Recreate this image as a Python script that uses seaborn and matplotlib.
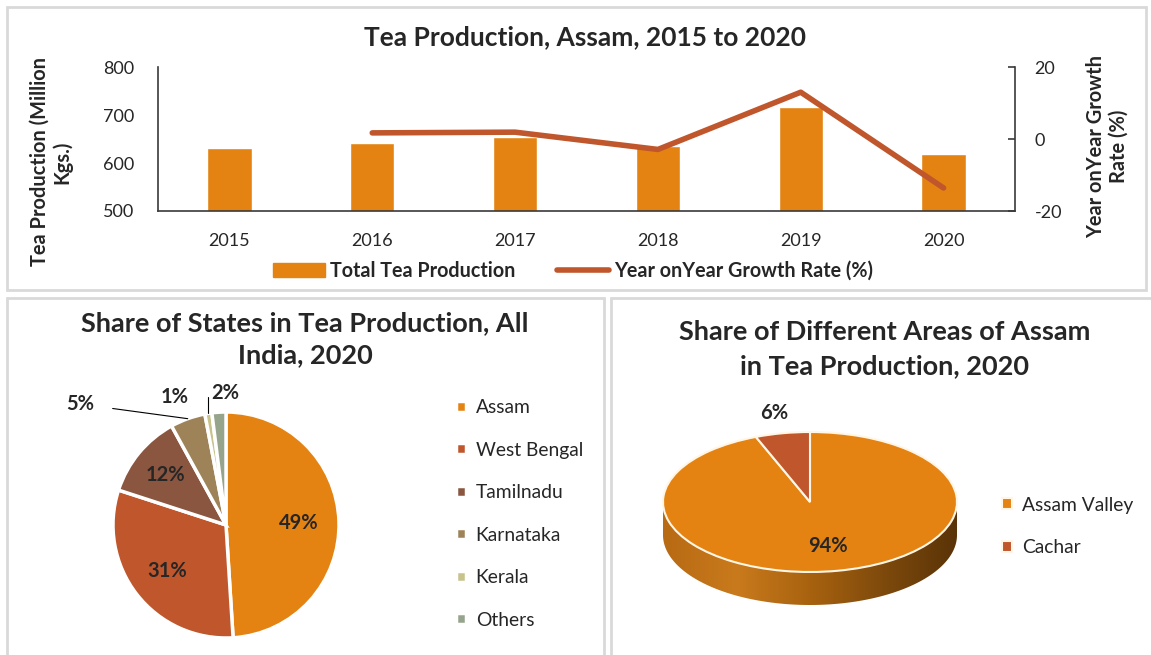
import numpy as np
import matplotlib
matplotlib.use('Agg')
import matplotlib.pyplot as plt
from matplotlib.patches import Rectangle, Polygon
from matplotlib.lines import Line2D
from matplotlib.colors import LinearSegmentedColormap
import seaborn as sns

# --- data ---
years = ['2015', '2016', '2017', '2018', '2019', '2020']
production = [632, 642, 654, 635, 717, 619]          # million kgs
growth = [np.nan, 1.7, 1.9, -2.9, 13.0, -13.6]       # % year on year

states = ['Assam', 'West Bengal', 'Tamilnadu', 'Karnataka', 'Kerala', 'Others']
state_share = [49, 31, 12, 5, 1, 2]
state_colors = ['#E48312', '#C0562C', '#8A5640', '#9E8258', '#C8C38C', '#96A48C']

areas = ['Assam Valley', 'Cachar']
area_share = [94, 6]
area_colors = ['#E48312', '#C0562C']

ORANGE = '#E48312'
LINE = '#C0562C'
SPINE = '#3a3a3a'

sns.set_theme(style='white')
plt.rcParams['font.family'] = ['Lato', 'DejaVu Sans']
plt.rcParams['axes.unicode_minus'] = False

W, H = 1151, 655
fig = plt.figure(figsize=(W / 100, H / 100), dpi=100)


def px_axes(x0, y0, x1, y1):
    return fig.add_axes([x0 / W, 1 - y1 / H, (x1 - x0) / W, (y1 - y0) / H])


def ftext(x, y, s, **kw):
    return fig.text(x / W, 1 - y / H, s, **kw)


# panel borders
for x0, y0, x1, y1 in [(7, 7, 1146, 290), (7, 298, 604, 660), (611, 298, 1160, 660)]:
    fig.add_artist(Rectangle((x0 / W, 1 - y1 / H), (x1 - x0) / W, (y1 - y0) / H,
                             transform=fig.transFigure, fill=False,
                             edgecolor='#d9d9d9', linewidth=2))

# ---------------- top: bars + growth line ----------------
ax = px_axes(158, 67, 1015, 211)
sns.barplot(x=years, y=production, color=ORANGE, saturation=1, width=0.31, ax=ax)
ax.set_ylim(500, 800)
ax.set_yticks([500, 600, 700, 800])
ax.set_xlabel(''); ax.set_ylabel('')
for s in ['top', 'right']:
    ax.spines[s].set_visible(False)
for s in ['left', 'bottom']:
    ax.spines[s].set_color(SPINE); ax.spines[s].set_linewidth(1.2)
ax.tick_params(axis='y', length=0, labelsize=13, pad=17)
ax.tick_params(axis='x', length=0, labelsize=13, pad=16)

ax2 = ax.twinx()
sns.lineplot(x=np.arange(len(years)), y=growth, color=LINE, linewidth=4, ax=ax2)
ax2.set_ylim(-20, 20)
ax2.set_yticks([-20, 0, 20])
ax2.set_ylabel('')
for s in ['top', 'left', 'bottom']:
    ax2.spines[s].set_visible(False)
ax2.spines['right'].set_color(SPINE); ax2.spines['right'].set_linewidth(1.2)
ax2.tick_params(axis='y', direction='in', length=5, width=1.2, color=SPINE,
                labelsize=13, pad=14)
ax.set_xlim(-0.5, len(years) - 0.5)

ftext(585, 37, 'Tea Production, Assam, 2015 to 2020', ha='center', va='center',
      fontsize=19, fontweight='bold')
ftext(51, 162, 'Tea Production (Million\nKgs.)', rotation=90, ha='center', va='center',
      fontsize=14.4, fontweight='bold', multialignment='center', linespacing=1.15)
ftext(1107, 146, 'Year onYear Growth\nRate (%)', rotation=90, ha='center', va='center',
      fontsize=14.4, fontweight='bold', multialignment='center', linespacing=1.15)

handles = [Rectangle((0, 0), 1, 1, color=ORANGE), Line2D([0], [0], color=LINE, lw=4)]
fig.legend(handles, ['Total Tea Production', 'Year onYear Growth Rate (%)'],
           loc='center', bbox_to_anchor=(573 / W, 1 - 271 / H), ncol=2, frameon=False,
           prop=dict(weight='bold', size=14.2), handlelength=2.65, handleheight=0.75,
           columnspacing=2.1, handletextpad=0.25)

# ---------------- bottom left: states pie ----------------
cx, cy, r = 226, 525, 113
lim = 150 / r
axp = px_axes(cx - 150, cy - 150, cx + 150, cy + 150)
wedges, _ = axp.pie(state_share, colors=state_colors, startangle=90, counterclock=False,
                    wedgeprops=dict(edgecolor='white', linewidth=2.5))
axp.set_xlim(-lim, lim); axp.set_ylim(-lim, lim)

cum = np.cumsum([0] + state_share) / sum(state_share)
mids = [np.deg2rad(90 - 360 * (cum[i] + cum[i + 1]) / 2) for i in range(len(states))]
inside = {0: 0.64, 1: 0.66, 2: 0.7}
for i, v in enumerate(state_share):
    if i in inside:
        d = inside[i]
        axp.text(d * np.cos(mids[i]), d * np.sin(mids[i]), f'{v}%', ha='center',
                 va='center', fontsize=14.5, fontweight='bold')
# outside labels with leader lines
axp.annotate(f'{state_share[3]}%', xy=(np.cos(mids[3]), np.sin(mids[3])),
             xytext=(-1.29, 1.07), ha='center', va='center', fontsize=14.5,
             fontweight='bold', arrowprops=dict(arrowstyle='-', color='black', lw=0.8,
                                                shrinkA=11, shrinkB=0))
axp.annotate(f'{state_share[4]}%', xy=(np.cos(mids[4]), np.sin(mids[4])),
             xytext=(-0.45, 1.13), ha='center', va='center', fontsize=14.5,
             fontweight='bold', arrowprops=dict(arrowstyle='-', color='black', lw=0.8,
                                                shrinkA=11, shrinkB=0,
                                                connectionstyle='angle,angleA=0,angleB=90,rad=0'))
axp.text(-0.01, 1.17, f'{state_share[5]}%', ha='center', va='center', fontsize=14.5,
         fontweight='bold')

ftext(305, 339, 'Share of States in Tea Production, All\nIndia, 2020', ha='center',
      va='center', fontsize=19.5, fontweight='bold', linespacing=1.4)
fig.legend(wedges, states, loc='center left', bbox_to_anchor=(439 / W, 1 - 514 / H),
           frameon=False, fontsize=13.9, handlelength=0.5, handleheight=0.5,
           handletextpad=0.5, labelspacing=1.32)

# ---------------- bottom right: 3D-looking pie ----------------
ex, ey, rx, ry, depth = 810, 502, 147, 70, 33
x0, x1, y0, y1 = 650, 970, 402, 622
axe = px_axes(x0, y0, x1, y1)
d = depth / ry
t = np.linspace(np.pi, 2 * np.pi, 200)
side = np.concatenate([np.c_[np.cos(t), np.sin(t)], np.c_[np.cos(t[::-1]), np.sin(t[::-1]) - d]])
side_poly = Polygon(side, closed=True, facecolor='none', edgecolor='none')
axe.add_patch(side_poly)
grad = LinearSegmentedColormap.from_list('side', ['#B86A14', '#C97A1C', '#A8620F',
                                                   '#7E4A0C', '#5A3307'])
img = axe.imshow(np.linspace(0, 1, 256)[None, :], cmap=grad, aspect='auto',
                 extent=(-1, 1, -1 - d, 0), zorder=1)
img.set_clip_path(side_poly)
wedges2, texts2, autotexts2 = axe.pie(area_share, colors=area_colors, startangle=90,
                                      counterclock=False, autopct='%d%%', pctdistance=0.64,
                                      labeldistance=1.3, labels=['', ''],
                                      wedgeprops=dict(edgecolor='#FFF6E6', linewidth=1.5,
                                                      zorder=2),
                                      textprops=dict(fontsize=14.5, fontweight='bold'))
# small slice label sits outside the pie
autotexts2[1].set_position(texts2[1].get_position())
axe.set_aspect('auto')
axe.set_xlim((x0 - ex) / rx, (x1 - ex) / rx)
axe.set_ylim((ey - y1) / ry, (ey - y0) / ry)
axe.axis('off')

ftext(885, 349, 'Share of Different Areas of Assam\nin Tea Production, 2020', ha='center',
      va='center', fontsize=19.5, fontweight='bold', linespacing=1.5)
fig.legend(wedges2, areas, loc='center left', bbox_to_anchor=(985 / W, 1 - 526.5 / H),
           frameon=False, fontsize=13.9, handlelength=0.5, handleheight=0.5,
           handletextpad=0.5, labelspacing=1.32)

fig.savefig('out.png', dpi=100)
